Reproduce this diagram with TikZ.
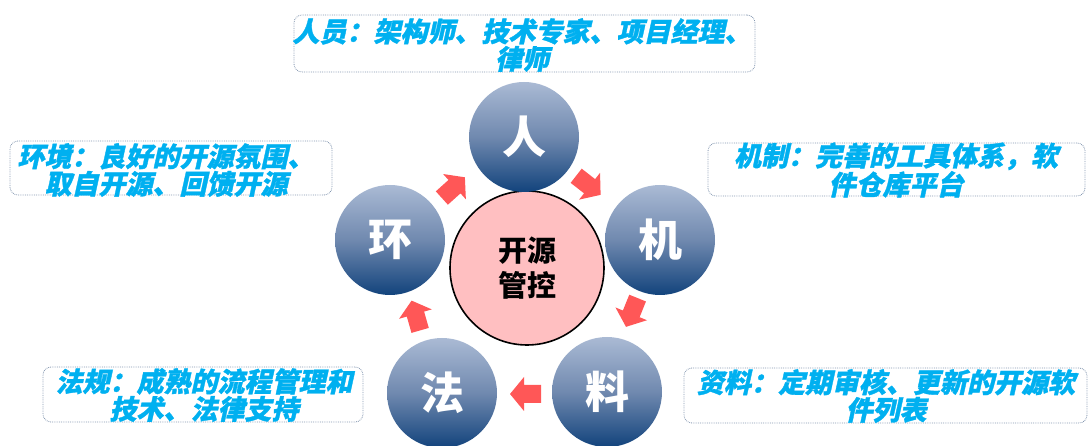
\documentclass[tikz,border=0pt]{standalone}
\usepackage{fontspec}
\newfontfamily\cjk{Noto Sans CJK SC}
\newfontfamily\cjkit{Noto Sans CJK SC}[FakeSlant=0.22, BoldFeatures={FakeSlant=0.22, FakeBold=1.2}]
\usetikzlibrary{shapes.geometric}
\definecolor{txtblue}{HTML}{00B0F0}
\definecolor{boxline}{HTML}{8497B0}
\definecolor{ctop}{HTML}{AABAD4}
\definecolor{cmid}{HTML}{7089AF}
\definecolor{cbot}{HTML}{12437C}
\definecolor{pinkfill}{HTML}{FFBFC1}
\definecolor{arrred}{HTML}{FF5757}
\tikzset{
  infobox/.style={draw=boxline, densely dotted, line width=0.8pt, rounded corners=8pt, fill=white,
    minimum width=#1, inner sep=0pt},
  infotext/.style={text=txtblue, font=\cjkit\bfseries\fontsize{27}{27.5}\selectfont, align=center, inner sep=0pt},
  bluecirc/.style={circle, minimum size=110pt, inner sep=0pt, top color=ctop, bottom color=cbot, middle color=cmid,
    text=white, font=\cjk\bfseries\fontsize{44}{46}\selectfont},
  centercirc/.style={circle, minimum size=154pt, inner sep=0pt, fill=pinkfill, draw=black, line width=1.6pt,
    font=\cjk\bfseries\fontsize{29}{35}\selectfont, align=center},
  redarrow/.style={fill=arrred}
}
\begin{document}
\begin{tikzpicture}[x=1pt,y=-1pt]
\useasboundingbox (0,0) rectangle (1088,446);
% info boxes
\node[infobox=461pt, minimum height=57pt] (bt) at (524.5,43.5) {};
\node[infotext] (tt) at (522,45) {人员：架构师、技术专家、项目经理、\\律师};
\node[infobox=322pt, minimum height=54pt] (bl) at (171,168) {};
\node[infotext] (tl) at (166,170) {环境：良好的开源氛围、\\取自开源、回馈开源};
\node[infobox=377pt, minimum height=53pt] (br) at (896.5,169.5) {};
\node[infotext] (tr) at (896,170) {机制：完善的工具体系，软\\件仓库平台};
\node[infobox=320pt, minimum height=55pt] (bbl) at (203,394.5) {};
\node[infotext] (tbl) at (204,395) {法规：成熟的流程管理和\\技术、法律支持};
\node[infobox=403pt, minimum height=55pt] (bbr) at (885.5,395.5) {};
\node[infotext] (tbr) at (886,396) {资料：定期审核、更新的开源软\\件列表};
% circles
\node[centercirc] (core) at (527,268) {开源\\管控};
\node[bluecirc] (ren) at (524,137) {人};
\node[bluecirc] (ji) at (660,240) {机};
\node[bluecirc] (liao) at (607,392) {料};
\node[bluecirc] (fa) at (442,393) {法};
\node[bluecirc] (huan) at (390,240) {环};
% arrows
\def\arrowpath{(-15,-9) -- (2,-9) -- (2,-17) -- (16,0) -- (2,17) -- (2,9) -- (-15,9) -- cycle}
\fill[redarrow, shift={(588,185)}, rotate=-38] \arrowpath;
\fill[redarrow, shift={(632,312)}, rotate=-112] \arrowpath;
\fill[redarrow, shift={(526,394)}, rotate=180] \arrowpath;
\fill[redarrow, shift={(416,316)}, rotate=106] \arrowpath;
\fill[redarrow, shift={(453,188)}, rotate=42] \arrowpath;
\end{tikzpicture}
\end{document}
